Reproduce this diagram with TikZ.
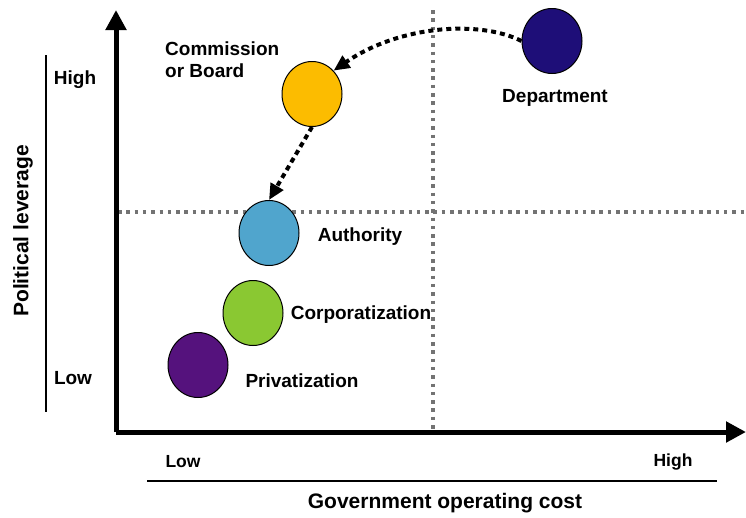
\documentclass[tikz,border=0pt]{standalone}
\usepackage{fontspec}
\setmainfont{Liberation Sans}
\usetikzlibrary{shapes,arrows.meta}
\tikzstyle{axis} = [line width=5pt, -{Triangle[length=20pt,width=20pt]}]
\tikzstyle{guide} = [line width=3.5pt, color={rgb,255:red,115;green,115;blue,115}, dash pattern=on 3.5pt off 4.8pt]
\tikzstyle{form} = [ellipse, draw=black, line width=1pt, minimum width=60pt, minimum height=65pt, inner sep=0pt]
\tikzstyle{label} = [font=\fontsize{19}{22}\selectfont\bfseries, inner sep=0pt]
\tikzstyle{title} = [font=\fontsize{21}{24}\selectfont\bfseries, inner sep=0pt]
\tikzstyle{move} = [line width=4pt, dash pattern=on 5pt off 4pt, -{Triangle[length=16pt,width=14pt]}]

\begin{document}
\begin{tikzpicture}[x=1pt, y=-1pt]
\useasboundingbox (0,0) rectangle (746,517);

\coordinate (origin) at (116,432);
\coordinate (ytop) at (116,10);
\coordinate (xend) at (746,432);

% quadrant guides
\coordinate (vtop) at (433,10);
\coordinate (vbot) at (433,432);
\coordinate (hleft) at (118,212);
\coordinate (hright) at (744,212);
\draw [guide] (vtop) -- (vbot);
\draw [guide] (hleft) -- (hright);

\draw [axis] (origin) -- (ytop);
\draw [axis] (origin) -- (xend);

% scale bars
\coordinate (ltop) at (46,55);
\coordinate (lbot) at (46,412);
\draw [line width=1.2pt] (ltop) -- (lbot);
\coordinate (bleft) at (147,481);
\coordinate (bright) at (717,481);
\draw [line width=1.2pt] (bleft) -- (bright);

\node (yhigh) [label] at (75,80) {High};
\node (ylow) [label] at (73,378) {Low};
\node (xlow) [label, font=\fontsize{17.5}{20}\selectfont\bfseries] at (183,462) {Low};
\node (xhigh) [label, font=\fontsize{17.5}{20}\selectfont\bfseries] at (673,462) {High};
\node (ytitle) [title, rotate=90] at (23,231) {Political leverage};
\node (xtitle) [title] at (445,503) {Government operating cost};

% forms
\node (dept) [form, fill={rgb,255:red,30;green,14;blue,120}] at (552,41) {};
\node (comm) [form, fill={rgb,255:red,252;green,188;blue,0}] at (312,94) {};
\node (auth) [form, fill={rgb,255:red,80;green,165;blue,205}] at (269,233) {};
\node (corp) [form, fill={rgb,255:red,138;green,200;blue,50}] at (253,313) {};
\node (priv) [form, fill={rgb,255:red,85;green,18;blue,125}] at (198,365) {};

\node (deptlbl) [label] at (555,98) {Department};
\node (commlbl) [label, align=left, anchor=west] at (165,60) {Commission\\or Board};
\node (authlbl) [label] at (360,237) {Authority};
\node (corplbl) [label] at (361,315) {Corporatization};
\node (privlbl) [label] at (302,381) {Privatization};

\draw [move] (dept.west) .. controls (480,20) and (400,25) .. (comm.north east);
\draw [move] (comm.south) -- (auth.north);

\end{tikzpicture}
\end{document}
